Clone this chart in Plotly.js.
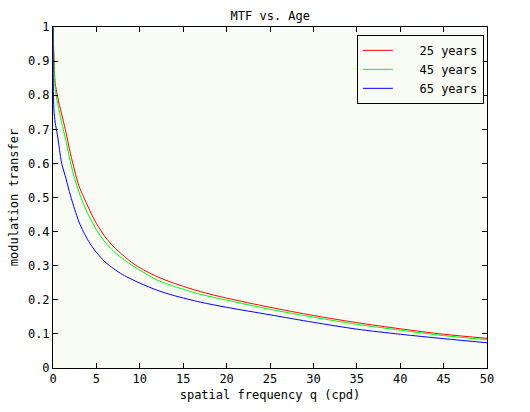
<!DOCTYPE html>
<html>
<head>
<meta charset="utf-8">
<script src="https://cdn.plot.ly/plotly-3.0.1.min.js"></script>
<style>html,body{margin:0;padding:0;background:#fff;}#chart{width:530px;height:412px;}</style>
</head>
<body>
<div id="chart"></div>
<script>
// spatial frequency q (cpd)
const q = [0, 0.1, 0.25, 0.5, 0.75, 1, 1.5, 2, 2.5, 3, 3.5, 4, 4.5, 5, 6, 7, 8, 9, 10, 12, 14, 17, 20, 25, 30, 35, 40, 45, 50];
// modulation transfer per age
const mtf25 = [1.0, 0.92, 0.835, 0.80, 0.77, 0.745, 0.69, 0.63, 0.578, 0.533, 0.503, 0.475, 0.448, 0.424, 0.385, 0.355, 0.332, 0.311, 0.294, 0.268, 0.248, 0.224, 0.205, 0.178, 0.154, 0.133, 0.115, 0.099, 0.087];
const mtf45 = [1.0, 0.90, 0.82, 0.78, 0.75, 0.72, 0.665, 0.605, 0.555, 0.515, 0.482, 0.453, 0.428, 0.405, 0.369, 0.342, 0.321, 0.303, 0.287, 0.258, 0.239, 0.216, 0.199, 0.172, 0.149, 0.128, 0.111, 0.095, 0.083];
const mtf65 = [1.0, 0.76, 0.72, 0.685, 0.64, 0.60, 0.555, 0.507, 0.465, 0.428, 0.400, 0.376, 0.356, 0.339, 0.311, 0.291, 0.274, 0.261, 0.249, 0.228, 0.212, 0.193, 0.178, 0.156, 0.134, 0.114, 0.099, 0.086, 0.074];
const seriesNames = ['\u00a0\u00a0 25 years', '\u00a0\u00a0 45 years', '\u00a0\u00a0 65 years'];
const seriesColors = ['#ff0000', '#00ff00', '#0000ff'];
const xTicks = [0, 5, 10, 15, 20, 25, 30, 35, 40, 45, 50];
const yTicks = [0, 0.1, 0.2, 0.3, 0.4, 0.5, 0.6, 0.7, 0.8, 0.9, 1];
const yTickText = ['0', '0.1', '0.2', '0.3', '0.4', '0.5', '0.6', '0.7', '0.8', '0.9', '1'];

const allY = [mtf25, mtf45, mtf65];
const data = allY.map((y, i) => ({
  x: q, y: y, type: 'scatter', mode: 'lines', name: seriesNames[i],
  line: {color: seriesColors[i], width: 1, shape: 'spline', smoothing: 0.8}
}));

const font = {family: '"DejaVu Sans Mono", monospace', size: 12, color: '#000'};
const axisCommon = {
  showline: true, linecolor: '#000', linewidth: 1, mirror: 'ticks',
  ticks: 'inside', ticklen: 5, tickcolor: '#000', tickwidth: 1,
  showgrid: false, zeroline: false, tickfont: font, automargin: false
};
const layout = {
  width: 530, height: 412,
  margin: {l: 53, r: 43, t: 27, b: 44},
  paper_bgcolor: '#ffffff', plot_bgcolor: '#f8fcf4',
  font: font,
  title: {text: 'MTF vs. Age', font: font, x: 0.51, xanchor: 'center', y: 0.962, yanchor: 'middle', yref: 'container'},
  xaxis: Object.assign({}, axisCommon, {range: [0, 50], tickvals: xTicks, ticktext: xTicks.map(String),
    title: {text: 'spatial frequency q (cpd)', font: font, standoff: 5}}),
  yaxis: Object.assign({}, axisCommon, {range: [0, 1], tickvals: yTicks, ticktext: yTickText,
    title: {text: 'modulation transfer', font: font, standoff: 6}}),
  legend: {x: 0.70, y: 0.977, xanchor: 'left', yanchor: 'top', bgcolor: '#f8fcf4',
    bordercolor: '#000', borderwidth: 1, font: font, tracegroupgap: 0},
  showlegend: true
};
Plotly.newPlot('chart', data, layout, {staticPlot: true, displayModeBar: false});
</script>
</body>
</html>
